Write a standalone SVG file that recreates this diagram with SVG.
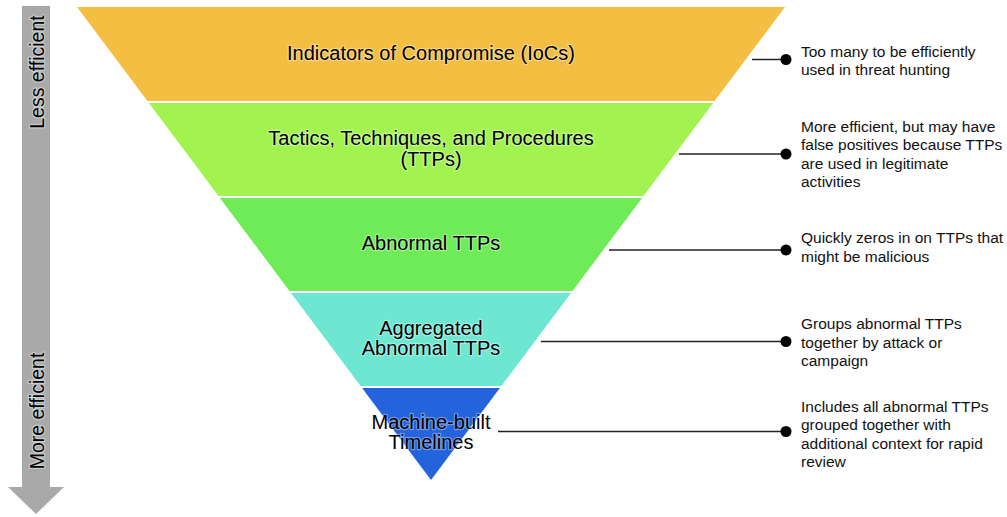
<svg xmlns="http://www.w3.org/2000/svg" width="1007" height="517" viewBox="0 0 1007 517">
  <style>
    .band-label { font-family: "Liberation Sans", Arial, sans-serif; font-size: 20px; fill: #000; text-anchor: middle; stroke: rgba(255,255,255,0.35); stroke-width: 2.5; paint-order: stroke; stroke-linejoin: round; }
    .axis-label { font-family: "Liberation Sans", Arial, sans-serif; font-size: 19.5px; fill: #000; text-anchor: middle; stroke: rgba(255,255,255,0.4); stroke-width: 2.5; paint-order: stroke; stroke-linejoin: round; }
    .note { font-family: "Liberation Sans", Arial, sans-serif; font-size: 15.5px; fill: #111; }
    .leader { stroke: #222; stroke-width: 1.4; fill: none; }
    .dot { fill: #000; }
  </style>

  <!-- efficiency axis arrow -->
  <g id="efficiency-axis">
    <path d="M22 6 H50 V487 H64 L36 514 L8 487 H22 Z" fill="#a9a9a9"/>
    <text class="axis-label" transform="translate(44,72) rotate(-90)">Less efficient</text>
    <text class="axis-label" transform="translate(44,411) rotate(-90)">More efficient</text>
  </g>

  <!-- funnel bands, top to bottom -->
  <g id="band-iocs">
    <polygon points="77,7 785,7 714.6,101 147.4,101" fill="#f4be43"/>
    <text class="band-label" x="431" y="60">Indicators of Compromise (IoCs)</text>
  </g>
  <g id="band-ttps">
    <polygon points="148.9,103 713.1,103 643.5,196 218.5,196" fill="#a3f350"/>
    <text class="band-label" x="431" y="145">Tactics, Techniques, and Procedures</text>
    <text class="band-label" x="431" y="166">(TTPs)</text>
  </g>
  <g id="band-abnormal">
    <polygon points="219.9,198 642.1,198 572.5,291 289.5,291" fill="#70eb58"/>
    <text class="band-label" x="431" y="250">Abnormal TTPs</text>
  </g>
  <g id="band-aggregated">
    <polygon points="291,293 571,293 501.4,386 360.6,386" fill="#6de7d2"/>
    <text class="band-label" x="431" y="334.5">Aggregated</text>
    <text class="band-label" x="431" y="354.5">Abnormal TTPs</text>
  </g>
  <g id="band-timelines">
    <polygon points="362.1,388 499.9,388 431,480" fill="#2363db"/>
    <text class="band-label" x="431" y="429">Machine-built</text>
    <text class="band-label" x="431" y="449">Timelines</text>
  </g>

  <!-- leader lines with end dots -->
  <g id="connectors">
    <line class="leader" x1="752" y1="59.5" x2="786" y2="59.5"/>
    <circle class="dot" cx="786" cy="59.5" r="5.5"/>
    <line class="leader" x1="679" y1="154" x2="786" y2="154"/>
    <circle class="dot" cx="786" cy="154" r="5.5"/>
    <line class="leader" x1="609" y1="250" x2="786" y2="250"/>
    <circle class="dot" cx="786" cy="250" r="5.5"/>
    <line class="leader" x1="541" y1="341.5" x2="786" y2="341.5"/>
    <circle class="dot" cx="786" cy="341.5" r="5.5"/>
    <line class="leader" x1="498" y1="431.5" x2="786" y2="431.5"/>
    <circle class="dot" cx="786" cy="431.5" r="5.5"/>
  </g>

  <!-- side notes -->
  <g id="note-iocs">
    <text class="note" x="801" y="56.7">Too many to be efficiently</text>
    <text class="note" x="801" y="75.2">used in threat hunting</text>
  </g>
  <g id="note-ttps">
    <text class="note" x="801" y="131.7">More efficient, but may have</text>
    <text class="note" x="801" y="150.1">false positives because TTPs</text>
    <text class="note" x="801" y="168.5">are used in legitimate</text>
    <text class="note" x="801" y="186.9">activities</text>
  </g>
  <g id="note-abnormal">
    <text class="note" x="801" y="243.3">Quickly zeros in on TTPs that</text>
    <text class="note" x="801" y="261.7">might be malicious</text>
  </g>
  <g id="note-aggregated">
    <text class="note" x="801" y="329.3">Groups abnormal TTPs</text>
    <text class="note" x="801" y="347.7">together by attack or</text>
    <text class="note" x="801" y="366.1">campaign</text>
  </g>
  <g id="note-timelines">
    <text class="note" x="801" y="411.7">Includes all abnormal TTPs</text>
    <text class="note" x="801" y="430.1">grouped together with</text>
    <text class="note" x="801" y="448.5">additional context for rapid</text>
    <text class="note" x="801" y="466.9">review</text>
  </g>
</svg>
